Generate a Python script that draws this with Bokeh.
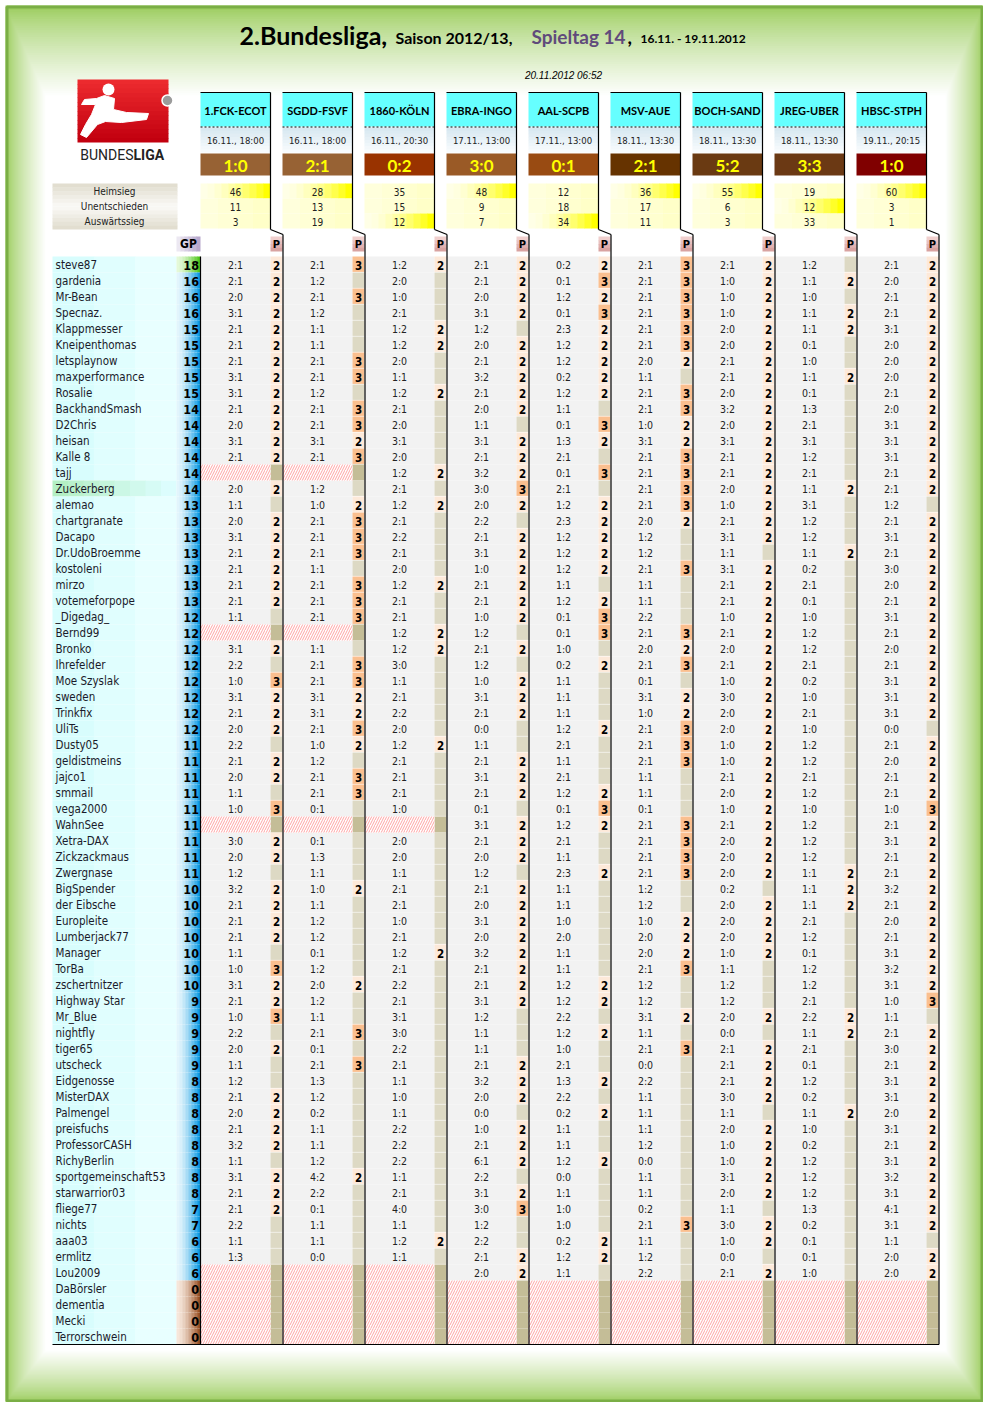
import numpy as np
from bokeh.plotting import figure
from bokeh.models import Range1d, ColumnDataSource
from bokeh.core.properties import value
from bokeh.embed import file_html
from bokeh.resources import INLINE

# ---------------- data ----------------
matches = ["1.FCK-ECOT", "SGDD-FSVF", "1860-KÖLN", "EBRA-INGO", "AAL-SCPB",
           "MSV-AUE", "BOCH-SAND", "JREG-UBER", "HBSC-STPH"]
kickoff = ["16.11., 18:00", "16.11., 18:00", "16.11., 20:30", "17.11., 13:00", "17.11., 13:00",
           "18.11., 13:30", "18.11., 13:30", "18.11., 13:30", "19.11., 20:15"]
results = ["1:0", "2:1", "0:2", "3:0", "0:1", "2:1", "5:2", "3:3", "1:0"]
home_wins = [46, 28, 35, 48, 12, 36, 55, 19, 60]
draws = [11, 13, 15, 9, 18, 17, 6, 12, 3]
away_wins = [3, 19, 12, 7, 34, 11, 3, 33, 1]
stat_labels = ["Heimsieg", "Unentschieden", "Auswärtssieg"]
stamp = "20.11.2012 06:52"
highlight_name = "Zuckerberg"

names = ["steve87", "gardenia", "Mr-Bean", "Specnaz.", "Klappmesser", "Kneipenthomas", "letsplaynow",
         "maxperformance", "Rosalie", "BackhandSmash", "D2Chris", "heisan", "Kalle 8", "tajj", "Zuckerberg",
         "alemao", "chartgranate", "Dacapo", "Dr.UdoBroemme", "kostoleni", "mirzo", "votemeforpope",
         "_Digedag_", "Bernd99", "Bronko", "Ihrefelder", "Moe Szyslak", "sweden", "Trinkfix", "UliTs",
         "Dusty05", "geldistmeins", "jajco1", "smmail", "vega2000", "WahnSee", "Xetra-DAX", "Zickzackmaus",
         "Zwergnase", "BigSpender", "der Eibsche", "Europleite", "Lumberjack77", "Manager", "TorBa",
         "zschertnitzer", "Highway Star", "Mr_Blue", "nightfly", "tiger65", "utscheck", "Eidgenosse",
         "MisterDAX", "Palmengel", "preisfuchs", "ProfessorCASH", "RichyBerlin", "sportgemeinschaft53",
         "starwarrior03", "fliege77", "nichts", "aaa03", "ermlitz", "Lou2009", "DaBörsler", "dementia",
         "Mecki", "Terrorschwein"]
gp = [18, 16, 16, 16, 15, 15, 15, 15, 15, 14, 14, 14, 14, 14, 14, 13, 13, 13, 13, 13, 13, 13,
      12, 12, 12, 12, 12, 12, 12, 12, 11, 11, 11, 11, 11, 11, 11, 11, 11, 10, 10, 10, 10, 10, 10, 10,
      9, 9, 9, 9, 9, 8, 8, 8, 8, 8, 8, 8, 8, 7, 7, 6, 6, 6, 0, 0, 0, 0]
N = None
tips = [
    ["2:1", "2:1", "1:2", "2:1", "0:2", "2:1", "2:1", "1:2", "2:1"],
    ["2:1", "1:2", "2:0", "2:1", "0:1", "2:1", "1:0", "1:1", "2:0"],
    ["2:0", "2:1", "1:0", "2:0", "1:2", "2:1", "1:0", "1:0", "2:1"],
    ["3:1", "1:2", "2:1", "3:1", "0:1", "2:1", "1:0", "1:1", "2:1"],
    ["2:1", "1:1", "1:2", "1:2", "2:3", "2:1", "2:0", "1:1", "3:1"],
    ["2:1", "1:1", "1:2", "2:0", "1:2", "2:1", "2:0", "0:1", "2:0"],
    ["2:1", "2:1", "2:0", "2:1", "1:2", "2:0", "2:1", "1:0", "2:0"],
    ["3:1", "2:1", "1:1", "3:2", "0:2", "1:1", "2:1", "1:1", "2:0"],
    ["3:1", "1:2", "1:2", "2:1", "1:2", "2:1", "2:0", "0:1", "2:1"],
    ["2:1", "2:1", "2:1", "2:0", "1:1", "2:1", "3:2", "1:3", "2:0"],
    ["2:0", "2:1", "2:0", "1:1", "0:1", "1:0", "2:0", "2:1", "3:1"],
    ["3:1", "3:1", "3:1", "3:1", "1:3", "3:1", "3:1", "3:1", "3:1"],
    ["2:1", "2:1", "2:0", "2:1", "2:1", "2:1", "2:1", "1:2", "3:1"],
    ["", "", "1:2", "3:2", "0:1", "2:1", "2:1", "2:1", "2:1"],
    ["2:0", "1:2", "2:1", "3:0", "2:1", "2:1", "2:0", "1:1", "2:1"],
    ["1:1", "1:0", "1:2", "2:0", "1:2", "2:1", "1:0", "3:1", "1:2"],
    ["2:0", "2:1", "2:1", "2:2", "2:3", "2:0", "2:1", "1:2", "2:1"],
    ["3:1", "2:1", "2:2", "2:1", "1:2", "1:2", "3:1", "1:2", "3:1"],
    ["2:1", "2:1", "2:1", "3:1", "1:2", "1:2", "1:1", "1:1", "2:1"],
    ["2:1", "1:1", "2:0", "1:0", "1:2", "2:1", "3:1", "0:2", "3:0"],
    ["2:1", "2:1", "1:2", "2:1", "1:1", "1:1", "2:1", "2:1", "2:0"],
    ["2:1", "2:1", "2:1", "2:1", "1:2", "1:1", "2:1", "0:1", "2:1"],
    ["1:1", "2:1", "2:1", "1:0", "0:1", "2:2", "1:0", "1:0", "3:1"],
    ["", "", "1:2", "1:2", "0:1", "2:1", "2:1", "1:2", "2:1"],
    ["3:1", "1:1", "1:2", "2:1", "1:0", "2:0", "2:0", "1:2", "2:0"],
    ["2:2", "2:1", "3:0", "1:2", "0:2", "2:1", "2:1", "2:1", "2:1"],
    ["1:0", "2:1", "1:1", "1:0", "1:1", "0:1", "1:0", "0:2", "3:1"],
    ["3:1", "3:1", "2:1", "3:1", "1:1", "3:1", "3:0", "1:0", "3:1"],
    ["2:1", "3:1", "2:2", "2:1", "1:1", "1:0", "2:0", "2:1", "3:1"],
    ["2:0", "2:1", "2:0", "0:0", "1:2", "2:1", "2:0", "1:0", "0:0"],
    ["2:2", "1:0", "1:2", "1:1", "2:1", "2:1", "1:0", "1:2", "2:1"],
    ["2:1", "1:2", "2:1", "2:1", "1:1", "2:1", "1:0", "1:2", "2:0"],
    ["2:0", "2:1", "2:1", "3:1", "2:1", "1:1", "2:1", "2:1", "2:1"],
    ["1:1", "2:1", "2:1", "2:1", "1:2", "1:1", "2:0", "1:2", "2:1"],
    ["1:0", "0:1", "1:0", "0:1", "0:1", "0:1", "1:0", "1:0", "1:0"],
    ["", "", "", "3:1", "1:2", "2:1", "2:1", "1:2", "2:1"],
    ["3:0", "0:1", "2:0", "2:1", "2:1", "2:1", "2:0", "1:2", "3:1"],
    ["2:0", "1:3", "2:0", "2:0", "1:1", "2:1", "2:0", "1:2", "2:1"],
    ["1:2", "1:1", "1:1", "1:2", "2:3", "2:1", "2:0", "1:1", "2:1"],
    ["3:2", "1:0", "2:1", "2:1", "1:1", "1:2", "0:2", "1:1", "3:2"],
    ["2:1", "1:1", "2:1", "2:0", "1:1", "1:2", "2:0", "1:1", "2:1"],
    ["2:1", "1:2", "1:0", "3:1", "1:0", "1:0", "2:0", "2:1", "2:0"],
    ["2:1", "1:2", "2:1", "2:0", "2:0", "2:0", "2:0", "1:2", "2:1"],
    ["1:1", "0:1", "1:2", "3:2", "1:1", "2:0", "1:0", "0:1", "3:1"],
    ["1:0", "1:2", "2:1", "2:1", "1:1", "2:1", "1:1", "1:2", "3:2"],
    ["3:1", "2:0", "2:2", "2:1", "1:2", "1:2", "1:2", "1:2", "3:1"],
    ["2:1", "1:2", "2:1", "3:1", "1:2", "1:2", "1:2", "2:1", "1:0"],
    ["1:0", "1:1", "3:1", "1:2", "2:2", "3:1", "2:0", "2:2", "1:1"],
    ["2:2", "2:1", "3:0", "1:1", "1:2", "1:1", "0:0", "1:1", "2:1"],
    ["2:0", "0:1", "2:2", "1:1", "1:0", "2:1", "2:1", "2:1", "3:0"],
    ["1:1", "2:1", "2:1", "2:1", "2:1", "0:0", "2:1", "0:1", "2:1"],
    ["1:2", "1:3", "1:1", "3:2", "1:3", "2:2", "2:1", "1:2", "3:1"],
    ["2:1", "1:2", "1:0", "2:0", "2:2", "1:1", "3:0", "0:2", "3:1"],
    ["2:0", "0:2", "1:1", "0:0", "0:2", "1:1", "1:1", "1:1", "2:0"],
    ["2:1", "1:1", "2:2", "1:0", "1:1", "1:1", "2:0", "1:0", "3:1"],
    ["3:2", "1:1", "2:2", "2:1", "1:1", "1:2", "1:0", "0:2", "2:1"],
    ["1:1", "1:2", "2:2", "6:1", "1:2", "0:0", "1:0", "1:2", "3:1"],
    ["3:1", "4:2", "1:1", "2:2", "0:0", "1:1", "3:1", "1:2", "3:2"],
    ["2:1", "2:2", "2:1", "3:1", "1:1", "1:1", "2:0", "1:2", "3:1"],
    ["2:1", "0:1", "4:0", "3:0", "1:0", "0:2", "1:1", "1:3", "4:1"],
    ["2:2", "1:1", "1:1", "1:2", "1:0", "2:1", "3:0", "0:2", "3:1"],
    ["1:1", "1:1", "1:2", "2:2", "0:2", "1:1", "1:0", "0:1", "1:1"],
    ["1:3", "0:0", "1:1", "2:1", "1:2", "1:2", "0:0", "0:1", "2:0"],
    ["", "", "", "2:0", "1:1", "2:2", "2:1", "1:0", "2:0"],
    ["", "", "", "", "", "", "", "", ""],
    ["", "", "", "", "", "", "", "", ""],
    ["", "", "", "", "", "", "", "", ""],
    ["", "", "", "", "", "", "", "", ""],
]
points = [
    [2, 3, 2, 2, 2, 3, 2, 0, 2], [2, 0, 0, 2, 3, 3, 2, 2, 2], [2, 3, 0, 2, 2, 3, 2, 0, 2],
    [2, 0, 0, 2, 3, 3, 2, 2, 2], [2, 0, 2, 0, 2, 3, 2, 2, 2], [2, 0, 2, 2, 2, 3, 2, 0, 2],
    [2, 3, 0, 2, 2, 2, 2, 0, 2], [2, 3, 0, 2, 2, 0, 2, 2, 2], [2, 0, 2, 2, 2, 3, 2, 0, 2],
    [2, 3, 0, 2, 0, 3, 2, 0, 2], [2, 3, 0, 0, 3, 2, 2, 0, 2], [2, 2, 0, 2, 2, 2, 2, 0, 2],
    [2, 3, 0, 2, 0, 3, 2, 0, 2], [N, N, 2, 2, 3, 3, 2, 0, 2], [2, 0, 0, 3, 0, 3, 2, 2, 2],
    [0, 2, 2, 2, 2, 3, 2, 0, 0], [2, 3, 0, 0, 2, 2, 2, 0, 2], [2, 3, 0, 2, 2, 0, 2, 0, 2],
    [2, 3, 0, 2, 2, 0, 0, 2, 2], [2, 0, 0, 2, 2, 3, 2, 0, 2], [2, 3, 2, 2, 0, 0, 2, 0, 2],
    [2, 3, 0, 2, 2, 0, 2, 0, 2], [0, 3, 0, 2, 3, 0, 2, 0, 2], [N, N, 2, 0, 3, 3, 2, 0, 2],
    [2, 0, 2, 2, 0, 2, 2, 0, 2], [0, 3, 0, 0, 2, 3, 2, 0, 2], [3, 3, 0, 2, 0, 0, 2, 0, 2],
    [2, 2, 0, 2, 0, 2, 2, 0, 2], [2, 2, 0, 2, 0, 2, 2, 0, 2], [2, 3, 0, 0, 2, 3, 2, 0, 0],
    [0, 2, 2, 0, 0, 3, 2, 0, 2], [2, 0, 0, 2, 0, 3, 2, 0, 2], [2, 3, 0, 2, 0, 0, 2, 0, 2],
    [0, 3, 0, 2, 2, 0, 2, 0, 2], [3, 0, 0, 0, 3, 0, 2, 0, 3], [N, N, N, 2, 2, 3, 2, 0, 2],
    [2, 0, 0, 2, 0, 3, 2, 0, 2], [2, 0, 0, 2, 0, 3, 2, 0, 2], [0, 0, 0, 0, 2, 3, 2, 2, 2],
    [2, 2, 0, 2, 0, 0, 0, 2, 2], [2, 0, 0, 2, 0, 0, 2, 2, 2], [2, 0, 0, 2, 0, 2, 2, 0, 2],
    [2, 0, 0, 2, 0, 2, 2, 0, 2], [0, 0, 2, 2, 0, 2, 2, 0, 2], [3, 0, 0, 2, 0, 3, 0, 0, 2],
    [2, 2, 0, 2, 2, 0, 0, 0, 2], [2, 0, 0, 2, 2, 0, 0, 0, 3], [3, 0, 0, 0, 0, 2, 2, 2, 0],
    [0, 3, 0, 0, 2, 0, 0, 2, 2], [2, 0, 0, 0, 0, 3, 2, 0, 2], [0, 3, 0, 2, 0, 0, 2, 0, 2],
    [0, 0, 0, 2, 2, 0, 2, 0, 2], [2, 0, 0, 2, 0, 0, 2, 0, 2], [2, 0, 0, 0, 2, 0, 0, 2, 2],
    [2, 0, 0, 2, 0, 0, 2, 0, 2], [2, 0, 0, 2, 0, 0, 2, 0, 2], [0, 0, 0, 2, 2, 0, 2, 0, 2],
    [2, 2, 0, 0, 0, 0, 2, 0, 2], [2, 0, 0, 2, 0, 0, 2, 0, 2], [2, 0, 0, 3, 0, 0, 0, 0, 2],
    [0, 0, 0, 0, 0, 3, 2, 0, 2], [0, 0, 2, 0, 2, 0, 2, 0, 0], [0, 0, 0, 2, 2, 0, 0, 0, 2],
    [N, N, N, 2, 0, 0, 2, 0, 2], [N] * 9, [N] * 9, [N] * 9, [N] * 9,
]

# ---------------- styling / layout ----------------
result_colors = ["#976234", "#976234", "#993300", "#9a5a26", "#994b12",
                 "#663300", "#6a3a12", "#6b3914", "#800000"]
FONT_T = "DejaVu Sans Condensed, DejaVu Sans"
FONT_H = "Lato"
NAME_L, NAME_R = 52, 176
GP_L, GP_R = 176, 200
COL0, COLW, TIPW = 200, 82, 70
ROW0, ROWH = 256, 16
X0, X1, Y0, Y1 = 0, 983, 0, 1402

p = figure(width=983, height=1402, x_range=Range1d(X0, X1), y_range=Range1d(Y1, Y0),
           output_backend="svg", toolbar_location=None, x_axis_type=None, y_axis_type=None,
           min_border=0)
p.grid.visible = False
p.outline_line_color = None
p.background_fill_color = "white"
p.border_fill_color = "white"


def rgb(h):
    h = h.lstrip("#")
    return [int(h[k:k + 2], 16) for k in (0, 2, 4)]


def mix(c0, c1, t):
    a, b = rgb(c0), rgb(c1)
    return "#%02x%02x%02x" % tuple(int(round(a[k] + (b[k] - a[k]) * t)) for k in range(3))


Q = {"left": [], "right": [], "top": [], "bottom": [], "color": []}


def box(l, r, t, b, c):
    Q["left"].append(l); Q["right"].append(r); Q["top"].append(t); Q["bottom"].append(b); Q["color"].append(c)


def hgrad(l, r, t, b, c0, c1, n=8, g=1.0):
    w = (r - l) / n
    for k in range(n):
        box(l + k * w, l + (k + 1) * w + (0.5 if k < n - 1 else 0), t, b, mix(c0, c1, (k / (n - 1)) ** g))


def vgrad(l, r, t, b, c0, c1, n=8, g=1.0):
    h = (b - t) / n
    for k in range(n):
        box(l, r, t + k * h, t + (k + 1) * h + (0.5 if k < n - 1 else 0), mix(c0, c1, (k / (n - 1)) ** g))


# page frame (nested rectangles -> soft green glow)
FL, FT = 5, 5
nf = 40
for k in range(nf + 1):
    t = k / nf
    box(FL + 40 * t, X1 - 38 * t, FT + 90 * t, Y1 - 52 * t, mix("#98cb58", "#ffffff", t ** 0.75))

# logo
vgrad(77, 168, 79, 142, "#ec2a2e", "#c2000f", n=14)

# header boxes for each match
for j in range(9):
    l = COL0 + COLW * j
    r = l + TIPW
    box(l, r, 92, 126, "#66ffff")
    vgrad(l, r, 127, 152, "#d8e8f1", "#f7fbfd", n=8)
    box(l, r, 153, 175, result_colors[j])
    outcome = 0 if int(results[j][0]) > int(results[j][2]) else (1 if results[j][0] == results[j][2] else 2)
    for s in range(3):
        top = 183 + 15 * s
        if s == outcome:
            hgrad(l, r, top, top + 15, "#ffffe6", "#ffff00", n=10, g=1.6)
        else:
            hgrad(l, r, top, top + 15, "#ffffdc", "#ffffc8", n=4)
    vgrad(r, r + 12, 236, 251, "#f0cfcd", "#d9a3a1", n=4)

# stat labels box
vgrad(NAME_L, 177, 183, 206, "#e2ded0", "#f8f7f3", n=6)
vgrad(NAME_L, 177, 206, 229, "#f8f7f3", "#e2ded0", n=6)
# GP header
hgrad(GP_L, GP_R, 236, 251, "#ece8f2", "#b8a8cc", n=6)

# table rows
hatch = {"left": [], "right": [], "top": [], "bottom": []}
for i, nm in enumerate(names):
    yt = ROW0 + ROWH * i
    yb = yt + ROWH
    if nm == highlight_name:
        hgrad(NAME_L, NAME_R, yt, yb, "#b4efc4", "#dcfdfd", n=8)
    else:
        hgrad(NAME_L, NAME_R, yt, yb, "#d8fdfd", "#e8ffff", n=3)
    if i == 0:
        hgrad(GP_L, GP_R, yt, yb, "#e4f9d8", "#52c81e", n=8, g=1.5)
    elif gp[i] == 0:
        hgrad(GP_L, GP_R, yt, yb, "#f6e6da", "#9c5428", n=8, g=1.5)
    else:
        hgrad(GP_L, GP_R, yt, yb, "#e2f5fc", "#0f9be4", n=8, g=1.5)
    for j in range(9):
        l = COL0 + COLW * j
        if tips[i][j] == "":
            hatch["left"].append(l); hatch["right"].append(l + TIPW)
            hatch["top"].append(yt); hatch["bottom"].append(yb)
            box(l + TIPW, l + TIPW + 12, yt, yb, "#c4bd97")
        else:
            box(l, l + TIPW, yt, yb, "#f2f2f2")
            pv = points[i][j]
            pc = {3: "#fabf8f", 2: "#fde9d9"}.get(pv, "#ddd9c4")
            box(l + TIPW, l + TIPW + 12, yt, yb - 0.6, pc)

p.quad(left="left", right="right", top="top", bottom="bottom", source=ColumnDataSource(Q),
       fill_color="color", line_color=None)
p.quad(left="left", right="right", top="top", bottom="bottom", source=ColumnDataSource(hatch),
       fill_color="white", line_color=None, hatch_pattern="/", hatch_color="#ff6666",
       hatch_scale=5, hatch_weight=0.6)

# frame edge
p.quad(left=[FL + 1.5], right=[X1 - 1.5], top=[FT + 1.5], bottom=[Y1 - 1.5], fill_color=None,
       line_color="#7aae45", line_width=3)

# logo figure
p.patch([104, 96, 84, 81, 95, 91, 85, 80, 86, 97, 105, 121, 146, 148, 126, 113, 114],
        [95, 98, 99, 104, 104, 114, 124, 134, 137, 124, 121, 122, 119, 113, 112, 109, 98],
        fill_color="white", line_color="white", line_width=1)
p.circle([108], [89], radius=6, fill_color="white", line_color=None)
p.circle([167], [100], radius=5.5, fill_color="#9b9b9b", line_color="white", line_width=1.5)

# lines
lx0, ly0, lx1, ly1 = [], [], [], []
for j in range(9):
    l = COL0 + COLW * j
    r = l + TIPW
    xs = [l, r, r, r + 12.5, r + 12.5]
    ys = [92, 92, 229, 234, 1344]
    for k in range(4):
        lx0.append(xs[k]); ly0.append(ys[k]); lx1.append(xs[k + 1]); ly1.append(ys[k + 1])
lx0.append(GP_R); ly0.append(ROW0); lx1.append(GP_R); ly1.append(1344)
lx0.append(NAME_L); ly0.append(1344); lx1.append(COL0 + COLW * 9 + 0.5); ly1.append(1344)
p.segment(lx0, ly0, lx1, ly1, line_color="black", line_width=1.2)
p.segment([COL0 + COLW * j for j in range(9)], [126.5] * 9,
          [COL0 + COLW * j + TIPW for j in range(9)], [126.5] * 9,
          line_color="black", line_width=1, line_dash="2 2")


def txt(xs, ys, texts, size, font=FONT_T, color="black", style="normal", align="center",
        baseline="middle"):
    p.text(x=xs, y=ys, text=texts, text_font_size=size, text_font=value(font), text_color=color,
           text_font_style=style, text_align=align, text_baseline=baseline)


# title
txt([239], [34], ["2.Bundesliga,"], "25px", FONT_H, "black", "bold", "left")
txt([395], [37], ["Saison 2012/13,"], "16px", FONT_H, "black", "bold", "left")
txt([531], [35.5], ["Spieltag 14"], "19px", FONT_H, "#604a7b", "bold", "left")
txt([627], [36], [","], "19px", FONT_H, "black", "bold", "left")
txt([640], [38], ["16.11. - 19.11.2012"], "12px", FONT_H, "black", "bold", "left")
txt([563], [75], [stamp], "10px", "Liberation Sans", "black", "italic")
txt([133], [154], ["BUNDES"], "14px", "Roboto", "#222222", "normal", "right")
txt([133], [154], ["LIGA"], "14px", "Roboto", "#222222", "bold", "left")

cx = [COL0 + COLW * j + TIPW / 2 for j in range(9)]
px = [COL0 + COLW * j + TIPW + 6 for j in range(9)]
txt(cx, [110] * 9, matches, "11px", FONT_H, "black", "bold")
txt(cx, [139.5] * 9, kickoff, "9.5px", FONT_T, "#222222")
txt(cx, [164.5] * 9, results, "17px", FONT_H, "#ffff00", "bold")
for s, vals in enumerate([home_wins, draws, away_wins]):
    txt(cx, [191 + 15 * s] * 9, [str(v) for v in vals], "10px", FONT_T, "#222222")
txt([114] * 3, [191, 206, 221], stat_labels, "10px", FONT_T, "#222222")
txt([188], [243.5], ["GP"], "12px", FONT_T, "black", "bold")
txt(px, [243.5] * 9, ["P"] * 9, "11px", FONT_T, "black", "bold")

ry = [ROW0 + ROWH * i + 8.5 for i in range(len(names))]
txt([55] * len(names), ry, names, "11.5px", FONT_T, "#1a1a2a", "normal", "left")
txt([198.5] * len(names), ry, [str(g) for g in gp], "12.5px", FONT_T, "black", "bold", "right")
tx, ty, tt, qx, qy, qt = [], [], [], [], [], []
for i in range(len(names)):
    for j in range(9):
        if tips[i][j]:
            tx.append(cx[j]); ty.append(ry[i]); tt.append(tips[i][j])
            if points[i][j]:
                qx.append(px[j]); qy.append(ry[i]); qt.append(str(points[i][j]))
txt(tx, ty, tt, "10.5px", FONT_T, "#222222")
txt(qx, qy, qt, "11.5px", FONT_T, "black", "bold")

open("out.html", "w").write(file_html(p, INLINE))
